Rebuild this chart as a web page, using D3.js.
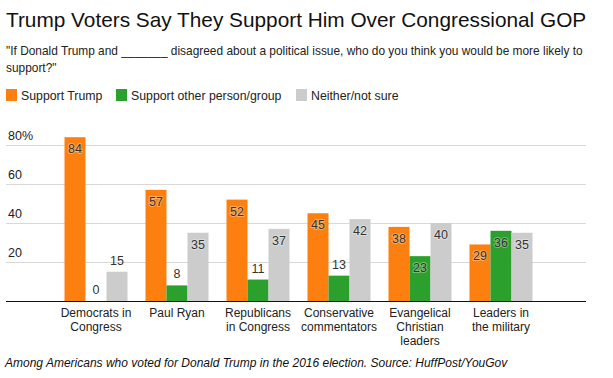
<!DOCTYPE html>
<html>
<head>
<meta charset="utf-8">
<script src="https://cdn.jsdelivr.net/npm/d3@7"></script>
<style>
  body { margin: 0; background: #fff; }
  svg { font-family: "Liberation Sans", Arial, sans-serif; }
</style>
</head>
<body>
<svg id="chart" width="613" height="378"></svg>
<script>
// data
const categories = [
  ["Democrats in", "Congress"],
  ["Paul Ryan"],
  ["Republicans", "in Congress"],
  ["Conservative", "commentators"],
  ["Evangelical", "Christian", "leaders"],
  ["Leaders in", "the military"]
];
const seriesNames = ["Support Trump", "Support other person/group", "Neither/not sure"];
const supportTrump = [84, 57, 52, 45, 38, 29];
const supportOther = [0, 8, 11, 13, 23, 36];
const neither = [15, 35, 37, 42, 40, 35];
const yTicks = [20, 40, 60, 80];
const colors = ["#fd7f0f", "#2ca02c", "#cccccc"];

const series = [supportTrump, supportOther, neither];

const svg = d3.select("#chart");

// title + question
svg.append("text")
  .attr("x", 6).attr("y", 27)
  .style("font-size", "20.8px")
  .style("fill", "#111")
  .text("Trump Voters Say They Support Him Over Congressional GOP");

const question = [
  "\"If Donald Trump and _______ disagreed about a political issue, who do you think you would be more likely to",
  "support?\""
];
svg.selectAll("text.q")
  .data(question)
  .enter()
  .append("text")
  .attr("class", "q")
  .attr("x", 6)
  .attr("y", (d, i) => 55 + i * 17)
  .style("font-size", "11.9px")
  .style("fill", "#222")
  .text(d => d);

// legend
const legendX = [6, 116, 296];
const legend = svg.selectAll("g.legend")
  .data(seriesNames)
  .enter()
  .append("g")
  .attr("class", "legend")
  .attr("transform", (d, i) => `translate(${legendX[i]},89)`);
legend.append("rect")
  .attr("width", 11).attr("height", 12)
  .attr("fill", (d, i) => colors[i]);
legend.append("text")
  .attr("x", 15).attr("y", 10.5)
  .style("font-size", "12.3px")
  .style("fill", "#222")
  .text(d => d);

// scales
const y = d3.scaleLinear().domain([0, 80]).range([301, 145]);
const x0 = d3.scaleBand()
  .domain(d3.range(categories.length))
  .range([55.5, 541.5])
  .paddingInner(18 / 81)
  .paddingOuter(0.5 * 18 / 81);
const x1 = d3.scaleBand()
  .domain(d3.range(series.length))
  .range([0, x0.bandwidth()]);

// gridlines + tick labels
svg.selectAll("line.grid")
  .data(yTicks)
  .enter()
  .append("line")
  .attr("class", "grid")
  .attr("x1", 6).attr("x2", 586)
  .attr("y1", d => Math.round(y(d)) + 0.5)
  .attr("y2", d => Math.round(y(d)) + 0.5)
  .attr("stroke", "#d8d8d8");

svg.selectAll("text.ytick")
  .data(yTicks)
  .enter()
  .append("text")
  .attr("class", "ytick")
  .attr("x", 8)
  .attr("y", d => y(d) - 5)
  .style("font-size", "12.5px")
  .style("fill", "#222")
  .text(d => d === 80 ? "80%" : d);

// bars
const groups = svg.selectAll("g.group")
  .data(categories)
  .enter()
  .append("g")
  .attr("class", "group")
  .attr("transform", (d, i) => `translate(${x0(i)},0)`);

groups.each(function (cat, ci) {
  const g = d3.select(this);
  series.forEach((vals, si) => {
    const v = vals[ci];
    g.append("rect")
      .attr("x", x1(si))
      .attr("y", y(v))
      .attr("width", x1.bandwidth())
      .attr("height", y(0) - y(v))
      .attr("fill", colors[si]);
    const inside = v >= 20;
    g.append("text")
      .attr("x", x1(si) + x1.bandwidth() / 2)
      .attr("y", inside ? y(v) + 16 : y(v) - 7)
      .attr("text-anchor", "middle")
      .style("font-size", "12.5px")
      .style("fill", "#333")
      .style("paint-order", "stroke")
      .style("stroke", inside ? "rgba(255,255,255,0.35)" : "none")
      .style("stroke-width", "2px")
      .text(v);
  });
  // category label
  g.append("text")
    .attr("text-anchor", "middle")
    .attr("x", x0.bandwidth() / 2)
    .style("font-size", "12px")
    .style("fill", "#222")
    .selectAll("tspan")
    .data(cat)
    .enter()
    .append("tspan")
    .attr("x", x0.bandwidth() / 2)
    .attr("y", (d, i) => 317 + i * 14)
    .text(d => d);
});

// baseline
svg.append("line")
  .attr("x1", 6).attr("x2", 586)
  .attr("y1", 301.5).attr("y2", 301.5)
  .attr("stroke", "#111")
  .attr("stroke-width", 1.2);

// footnote
svg.append("text")
  .attr("x", 5).attr("y", 367)
  .style("font-size", "12px")
  .style("font-style", "italic")
  .style("fill", "#111")
  .text("Among Americans who voted for Donald Trump in the 2016 election. Source: HuffPost/YouGov");
</script>
</body>
</html>
